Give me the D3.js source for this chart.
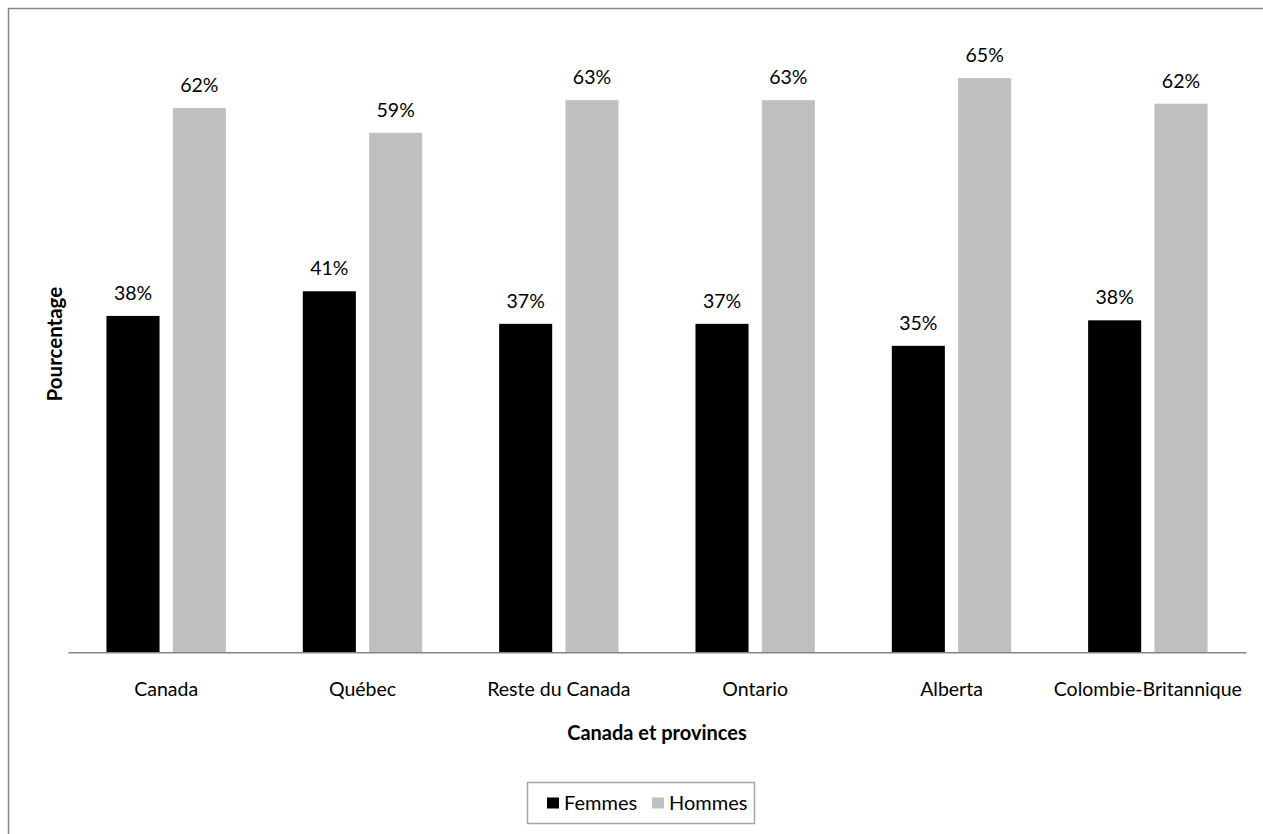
<!DOCTYPE html>
<html>
<head>
<meta charset="utf-8">
<script src="https://d3js.org/d3.v7.min.js"></script>
<style>
  html, body { margin: 0; padding: 0; background: #fff; overflow: hidden; }
  svg { display: block; font-family: Lato, "Open Sans", sans-serif; }
</style>
</head>
<body>
<svg id="chart" width="1263" height="834"></svg>
<script>
const categories = ["Canada", "Québec", "Reste du Canada", "Ontario", "Alberta", "Colombie-Britannique"];
const seriesNames = ["Femmes", "Hommes"];
const femmes = [38.2, 41.0, 37.3, 37.3, 34.8, 37.7];
const hommes = [61.8, 59.0, 62.7, 62.7, 65.2, 62.3];
const seriesColors = ["#000000", "#BFBFBF"];
const xTitle = "Canada et provinces";
const yTitle = "Pourcentage";

const values = [femmes, hommes];
const data = categories.map((c, i) => ({
  cat: c,
  vals: seriesNames.map((s, j) => ({ series: s, value: values[j][i], color: seriesColors[j] }))
}));

const svg = d3.select("#chart");

// chart area frame (extends beyond the viewport on right/bottom)
svg.append("path")
  .attr("d", "M8.5,900 L8.5,8.5 L1300,8.5")
  .attr("fill", "none")
  .attr("stroke", "#868686")
  .attr("stroke-width", 1.5);

const x = d3.scaleBand().domain(categories).range([68, 1246]).paddingInner(0).paddingOuter(0);
const xSub = d3.scaleBand().domain(seriesNames).range([0, x.bandwidth()]).paddingInner(0.2).paddingOuter(0.58);
const y = d3.scaleLinear().domain([0, 70]).range([652.3, 35.9]);

const groups = svg.append("g").selectAll("g")
  .data(data).join("g")
  .attr("transform", d => `translate(${x(d.cat)},0)`);

groups.selectAll("rect")
  .data(d => d.vals).join("rect")
  .attr("x", d => xSub(d.series))
  .attr("y", d => y(d.value))
  .attr("width", xSub.bandwidth())
  .attr("height", d => y(0) - y(d.value))
  .attr("fill", d => d.color);

groups.selectAll("text.lbl")
  .data(d => d.vals).join("text")
  .attr("class", "lbl")
  .attr("x", d => xSub(d.series) + xSub.bandwidth() / 2)
  .attr("y", d => y(d.value) - 16)
  .attr("text-anchor", "middle")
  .attr("font-size", 19.5)
  .attr("fill", "#000")
  .text(d => Math.round(d.value) + "%");

// x axis
const xAxis = svg.append("g")
  .attr("transform", `translate(0,${y(0)})`)
  .call(d3.axisBottom(x).tickSize(0).tickPadding(30));
xAxis.select(".domain").attr("stroke", "#868686").attr("stroke-width", 1.5);
xAxis.selectAll("text")
  .attr("font-size", 19.5)
  .attr("font-family", "Lato, 'Open Sans', sans-serif")
  .attr("fill", "#000");

// axis titles
svg.append("text")
  .attr("x", (x.range()[0] + x.range()[1]) / 2)
  .attr("y", 740)
  .attr("text-anchor", "middle")
  .attr("font-size", 20)
  .attr("font-weight", "bold")
  .attr("fill", "#000")
  .text(xTitle);

svg.append("text")
  .attr("transform", `translate(62,${(y.range()[0] + y.range()[1]) / 2}) rotate(-90)`)
  .attr("text-anchor", "middle")
  .attr("font-size", 20.5)
  .attr("font-weight", "bold")
  .attr("fill", "#000")
  .text(yTitle);

// legend
const legend = svg.append("g");
legend.append("rect")
  .attr("x", 527.5).attr("y", 782.5)
  .attr("width", 227).attr("height", 41)
  .attr("fill", "#fff")
  .attr("stroke", "#a6a6a6")
  .attr("stroke-width", 1.5);
const legX = [547, 652];
seriesNames.forEach((s, i) => {
  legend.append("rect")
    .attr("x", legX[i]).attr("y", 797.5)
    .attr("width", 12).attr("height", 11)
    .attr("fill", seriesColors[i]);
  legend.append("text")
    .attr("x", legX[i] + 17).attr("y", 809.5)
    .attr("font-size", 20)
    .attr("fill", "#000")
    .text(s);
});
</script>
</body>
</html>
